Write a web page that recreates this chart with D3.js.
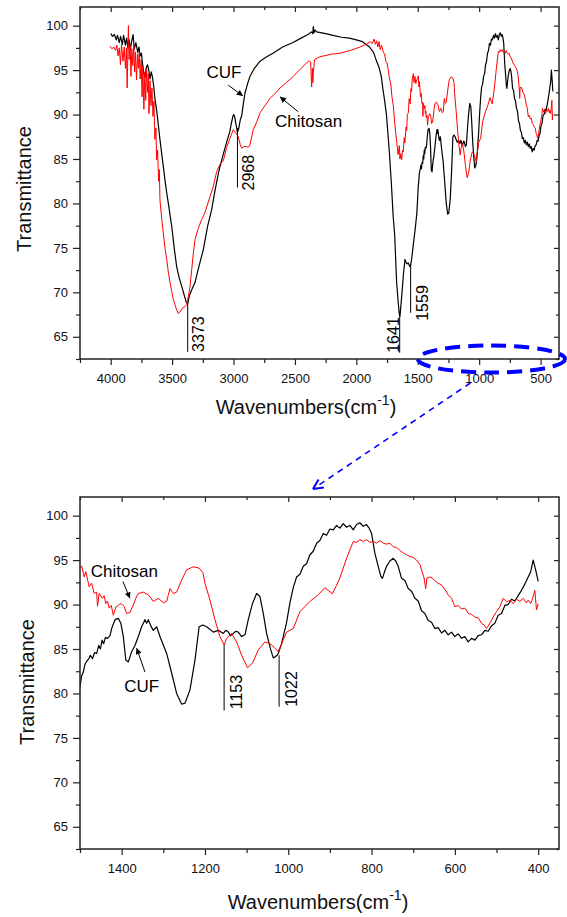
<!DOCTYPE html>
<html><head><meta charset="utf-8">
<script src="https://cdn.jsdelivr.net/npm/d3@7"></script>
<style>body{margin:0;background:#fff}svg{display:block;font-family:"Liberation Sans",Arial,sans-serif}</style>
</head><body><svg id="c" width="567" height="917"></svg>
<script>
// ---------- DATA ----------
const seriesNames = ["CUF", "Chitosan"];
const seriesColors = ["#000000", "#ff0000"];

// CUF spectrum [wavenumber, transmittance]
const cufSpectrum = [
[4000,99.1],[3985,98.8],[3970,99.0],[3955,98.4],[3945,98.9],[3930,98.1],[3920,98.8],[3905,97.9],[3895,98.9],[3880,97.8],
[3870,98.6],[3860,97.5],[3850,98.4],[3840,97.3],[3830,98.2],[3818,99.0],[3808,97.4],[3795,98.1],[3780,97.0],[3770,97.6],
[3760,96.6],[3750,96.9],[3740,95.6],[3730,94.6],[3720,94.2],[3710,95.3],[3700,95.6],[3690,95.0],[3680,94.0],[3670,94.8],
[3660,94.2],[3650,93.2],[3640,91.8],[3626,90.5],[3612,88.8],[3599,87.2],[3585,85.6],[3572,84.2],[3558,82.6],[3544,81.2],
[3523,79.3],[3503,77.4],[3483,75.0],[3463,72.9],[3442,71.6],[3422,70.7],[3400,69.6],[3385,68.9],[3373,68.7],[3360,69.6],
[3340,70.3],[3314,71.1],[3280,73.0],[3246,74.8],[3210,77.5],[3178,79.3],[3150,81.5],[3120,83.6],[3090,85.2],[3056,86.9],
[3030,88.1],[3015,89.2],[3005,89.8],[2998,90.0],[2990,89.7],[2980,88.9],[2968,88.0],[2958,88.4],[2945,89.4],[2933,89.9],
[2920,91.2],[2907,92.4],[2885,93.5],[2866,94.3],[2830,95.2],[2784,96.0],[2730,96.5],[2679,96.9],[2600,97.6],[2516,98.1],
[2450,98.6],[2394,99.0],[2365,99.3],[2355,99.1],[2350,99.9],[2345,99.2],[2335,99.5],[2323,99.3],[2250,99.1],[2190,98.9],
[2120,98.7],[2057,98.6],[2000,98.4],[1950,98.2],[1893,97.6],[1860,97.0],[1838,96.1],[1815,95.3],[1797,94.3],[1785,93.0],
[1770,91.6],[1755,90.0],[1743,87.9],[1730,85.5],[1715,82.3],[1700,78.5],[1688,76.5],[1672,71.1],[1660,69.0],[1650,67.5],
[1645,67.3],[1631,69.5],[1617,72.0],[1604,73.7],[1590,73.2],[1577,73.3],[1565,72.9],[1559,73.0],[1550,73.7],[1536,75.4],
[1522,77.0],[1508,78.8],
[1500,80.75],[1496,82.0],[1492,82.4],[1488,83.3],[1484,83.6],[1479,83.9],[1475,84.3],[1470,83.9],[1465,84.6],[1460,84.5],
[1455,85.4],[1451,85.0],[1447,86.0],[1443,85.6],[1439,86.3],[1434,86.2],[1428,86.5],[1424,87.3],[1416,88.3],[1408,88.45],
[1402,87.9],[1396,86.4],[1390,83.75],[1384,83.55],[1376,84.7],[1368,85.4],[1360,86.4],[1352,87.5],[1344,88.3],[1340,87.9],
[1336,88.3],[1330,87.6],[1324,87.1],[1316,87.5],[1308,86.4],[1292,84.5],[1280,82.3],[1268,80.0],[1256,78.8],[1248,78.9],
[1236,80.4],[1224,83.75],[1214,87.5],[1205,87.7],[1196,87.5],[1180,86.9],[1168,87.1],[1156,86.75],[1150,87.1],[1144,86.9],
[1138,86.5],[1132,86.75],[1126,87.0],[1120,86.9],[1112,86.4],[1104,86.6],[1096,88.3],[1086,90.1],[1076,91.25],[1068,90.9],
[1060,89.0],[1052,86.75],[1042,84.9],[1036,84.0],[1032,84.1],[1027,84.3],[1024,84.5],[1016,85.6],
[1004,88.0],[996,90.2],[988,91.9],[980,93.1],[972,93.4],[964,94.3],[956,94.6],[948,95.6],[940,96.0],[932,96.9],
[924,97.2],[916,98.0],[908,97.8],[900,98.5],[892,98.4],[884,98.9],[876,98.6],[868,99.1],[860,98.7],[852,98.9],
[844,98.4],[836,99.0],[828,99.2],[820,98.8],[812,99.0],[806,98.6],[800,98.0],[792,95.75],[784,94.3],[778,93.2],
[774,92.95],[768,93.8],[764,94.3],[756,94.9],[748,95.2],[742,94.9],[736,94.3],[728,92.95],[720,92.7],[712,91.8],
[704,91.5],[696,90.7],[688,90.4],[680,89.3],[672,89.0],[664,88.2],[656,88.0],[648,87.3],[640,87.4],[632,86.8],
[624,87.1],[616,86.6],[608,86.9],[600,86.4],[592,86.7],[584,86.2],[576,86.4],[568,85.8],[560,86.2],[552,86.0],
[544,86.5],[536,86.6],[528,87.1],[520,87.0],[512,87.6],[504,87.9],[496,88.8],[488,89.0],[480,89.9],[472,90.0],
[464,90.6],[456,90.4],[448,91.0],[440,91.6],[432,92.3],[424,93.1],[418,93.7],[412,95.0],[406,93.9],[400,92.6]
];

// Chitosan spectrum [wavenumber, transmittance]
const chitosanSpectrum = [
[4005,97.7],[3990,97.4],[3975,97.6],[3960,97.2],[3950,97.8],[3940,96.6],[3930,97.5],[3920,95.6],[3912,97.9],[3900,96.0],
[3890,97.6],[3880,95.2],[3872,97.5],[3866,93.0],[3860,97.0],[3856,100.0],[3850,96.2],[3842,97.8],[3835,94.3],[3828,97.4],
[3820,95.5],[3812,97.8],[3805,94.8],[3798,97.0],[3790,93.9],[3782,96.8],[3775,95.2],[3768,97.0],[3760,94.0],[3752,96.2],
[3745,92.0],[3738,95.5],[3730,90.6],[3722,94.8],[3715,91.6],[3708,95.1],[3700,92.5],[3694,94.6],[3688,90.1],[3680,93.8],
[3672,91.0],[3664,93.0],[3656,89.8],[3648,91.5],[3640,87.2],[3632,88.5],[3626,84.9],[3618,86.0],[3610,82.5],[3604,83.8],
[3599,80.4],[3585,78.3],[3572,76.7],[3558,75.0],[3544,73.7],[3530,72.2],[3517,71.1],[3503,70.1],[3490,69.2],[3470,68.3],
[3450,67.6],[3430,67.9],[3410,68.3],[3395,68.4],[3381,68.6],[3368,69.5],[3354,70.7],[3340,72.6],[3327,74.4],[3314,75.9],
[3287,77.2],[3259,78.2],[3233,78.95],[3200,80.4],[3165,81.9],[3137,83.6],[3110,84.4],[3083,84.8],[3056,86.3],[3030,87.3],
[3002,88.3],[2985,88.0],[2961,87.5],[2945,86.6],[2933,86.2],[2915,86.4],[2893,86.4],[2880,86.3],[2866,86.6],[2850,87.6],
[2839,88.3],[2810,89.2],[2784,90.2],[2745,91.0],[2703,91.8],[2660,92.4],[2621,93.0],[2570,93.6],[2513,94.3],[2450,95.2],
[2391,96.0],[2372,95.9],[2364,93.1],[2358,95.2],[2354,93.6],[2350,94.8],[2340,96.2],[2296,96.5],[2200,96.8],[2133,96.9],
[2050,97.2],[1970,97.6],[1920,97.9],[1889,98.2],[1870,98.0],[1855,98.5],[1845,97.9],[1834,98.3],[1825,97.6],[1815,98.2],
[1805,97.3],[1795,97.8],[1780,97.0],[1770,96.8],[1760,96.0],[1750,95.8],[1740,95.0],[1730,94.0],[1720,93.5],[1710,92.0],
[1699,91.0],[1690,89.5],[1680,88.0],[1672,87.0],[1660,85.5],[1650,86.5],[1645,85.0],[1638,85.6],[1631,84.9],[1624,86.0],
[1618,85.8],[1610,87.4],[1605,86.8],[1595,88.6],[1590,88.2],[1585,90.0],[1577,90.2],[1570,91.8],[1562,91.2],[1556,92.9],
[1550,92.6],[1545,94.0],[1536,94.6],[1530,93.6],[1523,94.3],[1516,93.5],[1509,93.9],
[1500,94.1],[1496,94.35],[1490,93.1],[1486,93.7],[1478,92.0],[1472,92.4],[1466,91.25],[1460,91.4],[1458,89.8],[1454,91.25],
[1446,90.7],[1442,91.0],[1438,90.1],[1434,90.4],[1430,89.6],[1425,89.9],[1420,88.8],[1414,89.75],[1408,89.9],[1404,90.1],
[1398,90.0],[1394,89.8],[1388,89.0],[1380,89.1],[1372,89.95],[1366,90.7],[1360,91.25],[1348,91.4],[1336,91.1],[1324,90.35],
[1312,90.7],[1300,90.2],[1292,90.35],[1284,91.8],[1276,91.25],[1268,91.4],[1256,92.75],[1244,93.9],[1228,94.25],[1214,94.1],
[1205,93.6],[1200,92.4],[1188,90.5],[1176,88.3],[1164,86.4],[1154,85.45],[1148,86.2],[1136,86.75],[1124,85.8],[1112,84.3],
[1098,82.9],[1086,83.4],[1072,84.9],[1056,85.8],[1044,85.6],[1032,85.1],[1024,84.7],[1016,85.6],[1004,86.9],[988,87.3],
[972,89.2],[948,90.35],[928,91.1],[912,91.9],[894,91.2],[876,93.0],[860,95.2],[844,97.1],[836,97.0],[828,97.3],
[820,97.1],[812,97.3],[804,97.0],[796,97.1],[788,96.9],[780,97.2],[772,96.9],[764,96.8],[756,96.9],[748,96.5],
[740,96.4],[732,96.1],[724,95.8],[716,95.6],[708,95.4],[700,95.3],[692,95.0],[684,94.5],[680,93.9],[674,93.0],
[670,91.8],[667,93.0],[660,93.1],[652,92.9],[644,92.5],[636,92.3],[632,92.2],[624,91.7],[616,91.1],[608,90.7],
[600,89.75],[592,89.9],[584,89.5],[576,89.6],[568,89.0],[560,88.9],[552,88.6],[544,88.5],[536,87.9],[530,87.7],
[524,87.3],[516,87.9],[508,88.6],[500,89.2],[492,89.75],[484,90.7],[476,90.3],[468,90.5],[460,90.1],[452,90.6],
[444,90.35],[436,90.7],[428,90.2],[424,90.5],[418,90.1],[412,90.9],[408,91.6],[404,89.4],[400,90.1]
];

const yDomain = [62.5, 102.1];
const yMajorTicks = [65, 70, 75, 80, 85, 90, 95, 100];
const yMinorTicks = [62.5, 67.5, 72.5, 77.5, 82.5, 87.5, 92.5, 97.5];

const topXDomain = [4250, 350];
const topXMajorTicks = [4000, 3500, 3000, 2500, 2000, 1500, 1000, 500];
const topXMinorTicks = [4250, 3750, 3250, 2750, 2250, 1750, 1250, 750];

const bottomXDomain = [1500, 350];
const bottomXMajorTicks = [1400, 1200, 1000, 800, 600, 400];
const bottomXMinorTicks = [1500, 1300, 1100, 900, 700, 500];

// peak marks
const topPeakLabels = ["3373", "2968", "1641", "1559"];
const topPeakWavenumbers = [3373, 2968, 1647, 1558];
const topPeakLineFrom = [68.7, 88.5, 67.4, 73.1];
const topPeakLineTo = [63.3, 81.8, 63.2, 67.7];

const bottomPeakLabels = ["1153", "1022"];
const bottomPeakWavenumbers = [1154, 1022];
const bottomPeakLineFrom = [85.45, 84.3];
const bottomPeakLineTo = [78.1, 78.5];

// ---------- DRAW ----------
const svg = d3.select("#c");
const defs = svg.append("defs");
defs.append("marker").attr("id","ah").attr("viewBox","0 0 10 10").attr("refX",10).attr("refY",5)
  .attr("markerWidth",8).attr("markerHeight",6).attr("markerUnits","userSpaceOnUse").attr("orient","auto")
  .append("path").attr("d","M0,0L10,5L0,10z").attr("fill","#000");

const axisColor = "#222";

function drawPanel(o) {
  const g = svg.append("g");
  const x = d3.scaleLinear().domain(o.xDomain).range([o.left, o.right]);
  const y = d3.scaleLinear().domain(yDomain).range([o.bottom, o.top]);

  defs.append("clipPath").attr("id", o.id + "clip").append("rect")
    .attr("x", o.left).attr("y", o.top).attr("width", o.right - o.left).attr("height", o.bottom - o.top);

  function styleAxis(sel) {
    sel.select(".domain").remove();
    sel.selectAll("line").attr("stroke", axisColor).attr("stroke-width", 1.2);
    sel.selectAll("text").attr("fill", "#111").attr("font-size", 13).attr("font-family", '"Liberation Sans",Arial,sans-serif');
  }
  g.append("g").attr("transform", `translate(0,${o.bottom})`)
    .call(d3.axisBottom(x).tickValues(o.xMajor).tickSize(6).tickPadding(9).tickFormat(d3.format("d"))).call(styleAxis);
  g.append("g").attr("transform", `translate(0,${o.bottom})`)
    .call(d3.axisBottom(x).tickValues(o.xMinor).tickSize(4).tickFormat("")).call(styleAxis);
  g.append("g").attr("transform", `translate(0,${o.top})`)
    .call(d3.axisBottom(x).tickValues(o.xMajor).tickSize(5).tickFormat("")).call(styleAxis);
  g.append("g").attr("transform", `translate(0,${o.top})`)
    .call(d3.axisBottom(x).tickValues(o.xMinor).tickSize(3).tickFormat("")).call(styleAxis);
  g.append("g").attr("transform", `translate(${o.left},0)`)
    .call(d3.axisLeft(y).tickValues(yMajorTicks).tickSize(7).tickPadding(5)).call(styleAxis);
  g.append("g").attr("transform", `translate(${o.left},0)`)
    .call(d3.axisLeft(y).tickValues(yMinorTicks).tickSize(4).tickFormat("")).call(styleAxis);
  g.append("g").attr("transform", `translate(${o.right},0)`)
    .call(d3.axisLeft(y).tickValues(yMajorTicks).tickSize(5).tickFormat("")).call(styleAxis);
  g.append("g").attr("transform", `translate(${o.right},0)`)
    .call(d3.axisLeft(y).tickValues(yMinorTicks).tickSize(3).tickFormat("")).call(styleAxis);

  const line = d3.line().x(d => x(d[0])).y(d => y(d[1]));
  const lg = g.append("g").attr("clip-path", `url(#${o.id}clip)`);
  [cufSpectrum, chitosanSpectrum].forEach((s, i) => {
    lg.append("path").datum(s).attr("d", line).attr("fill", "none")
      .attr("stroke", seriesColors[i]).attr("stroke-width", i === 0 ? 1.2 : 1.0).attr("stroke-linejoin", "round");
  });

  g.append("rect").attr("x", o.left).attr("y", o.top).attr("width", o.right - o.left).attr("height", o.bottom - o.top)
    .attr("fill", "none").attr("stroke", axisColor).attr("stroke-width", 1.5);

  o.peaks.labels.forEach((lab, i) => {
    const px = x(o.peaks.wn[i]);
    const y1 = y(o.peaks.from[i]), y2 = y(o.peaks.to[i]);
    g.append("line").attr("x1", px).attr("x2", px).attr("y1", y1).attr("y2", y2)
      .attr("stroke", "#000").attr("stroke-width", 1);
    const tx = px + o.peaks.dx[i], ty = y2 + o.peaks.dy[i];
    g.append("text").attr("transform", `translate(${tx},${ty}) rotate(-90)`)
      .attr("font-size", 16).attr("fill", "#000").text(lab);
  });

  o.notes.forEach(n => {
    g.append("text").attr("x", x(n.tx)).attr("y", y(n.ty)).attr("text-anchor", n.anchor)
      .attr("font-size", 17).attr("fill", "#000").text(n.text);
    g.append("line").attr("x1", x(n.a0[0])).attr("y1", y(n.a0[1])).attr("x2", x(n.a1[0])).attr("y2", y(n.a1[1]))
      .attr("stroke", "#000").attr("stroke-width", 1).attr("marker-end", "url(#ah)");
  });

  svg.append("text").attr("transform", `translate(${o.yTitleX},${(o.top + o.bottom) / 2 + o.yTitleDy}) rotate(-90)`)
    .attr("text-anchor", "middle").attr("font-size", 20).attr("fill", "#111").text("Transmittance");
  const xt = svg.append("text").attr("x", o.xTitleX).attr("y", o.bottom + o.xTitleDy).attr("text-anchor", "middle")
    .attr("font-size", 20).attr("fill", "#111");
  xt.append("tspan").text("Wavenumbers(cm");
  xt.append("tspan").attr("font-size", 14).attr("dy", -9).text("-1");
  xt.append("tspan").attr("dy", 9).text(")");

  return { x, y };
}

const topPanel = drawPanel({
  id: "top", left: 80, right: 559, top: 7, bottom: 359,
  xDomain: topXDomain, xMajor: topXMajorTicks, xMinor: topXMinorTicks,
  yTitleX: 31, yTitleDy: 6, xTitleX: 306, xTitleDy: 55,
  peaks: { labels: topPeakLabels, wn: topPeakWavenumbers, from: topPeakLineFrom, to: topPeakLineTo,
           dx: [16.5, 16.5, -0.5, 17.5], dy: [0, 3, 0, 8] },
  notes: [
    { text: "CUF", tx: 3078, ty: 94.1, anchor: "middle", a0: [3043, 93.3], a1: [2923, 92.1] },
    { text: "Chitosan", tx: 2662, ty: 88.6, anchor: "start", a0: [2473, 90.3], a1: [2622, 92.0] }
  ]
});

const bottomPanel = drawPanel({
  id: "bot", left: 80, right: 559, top: 497, bottom: 849,
  xDomain: bottomXDomain, xMajor: bottomXMajorTicks, xMinor: bottomXMinorTicks,
  yTitleX: 34, yTitleDy: 9, xTitleX: 318, xTitleDy: 60,
  peaks: { labels: bottomPeakLabels, wn: bottomPeakWavenumbers, from: bottomPeakLineFrom, to: bottomPeakLineTo,
           dx: [17.5, 17.5], dy: [-1, 0] },
  notes: [
    { text: "Chitosan", tx: 1474, ty: 93.1, anchor: "start", a0: [1397, 92.6], a1: [1380, 90.7] },
    { text: "CUF", tx: 1394, ty: 80.2, anchor: "start", a0: [1344, 82.4], a1: [1364, 85.1] }
  ]
});

// zoom highlight: ellipse around the 1500–350 region of the top axis, arrow to lower panel
const ex0 = topPanel.x(bottomXDomain[0]), ex1 = topPanel.x(bottomXDomain[1]) + 6;
const ecx = (ex0 + ex1) / 2, erx = (ex1 - ex0) / 2, ecy = topPanel.y(yDomain[0]);
svg.append("ellipse").attr("cx", ecx).attr("cy", ecy).attr("rx", erx).attr("ry", 13.5)
  .attr("fill", "none").attr("stroke", "#0000ff").attr("stroke-width", 4).attr("stroke-dasharray", "15,8");
const ax0 = ecx - 21, ay0 = ecy + 24, ax1 = 313, ay1 = bottomPanel.y(yDomain[1]) - 8;
svg.append("line").attr("x1", ax0).attr("y1", ay0).attr("x2", ax1).attr("y2", ay1)
  .attr("stroke", "#0000ff").attr("stroke-width", 1.6).attr("stroke-dasharray", "6,5");
const ang = Math.atan2(ay1 - ay0, ax1 - ax0);
[0.45, -0.45].forEach(a => {
  svg.append("line").attr("x1", ax1).attr("y1", ay1)
    .attr("x2", ax1 - 11 * Math.cos(ang + a)).attr("y2", ay1 - 11 * Math.sin(ang + a))
    .attr("stroke", "#0000ff").attr("stroke-width", 2);
});
</script>
</body></html>
